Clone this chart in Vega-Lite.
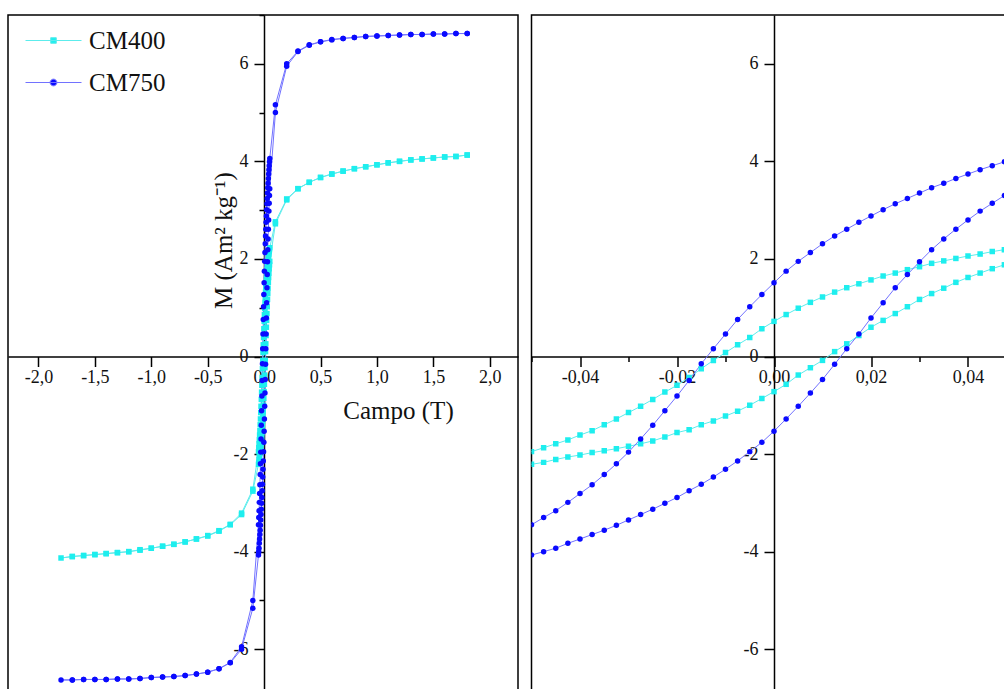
{
"$schema": "https://vega.github.io/schema/vega-lite/v6.json",
"background": "white",
"padding": {"left": 7, "top": 11, "right": 0, "bottom": 0},
"config": {
  "locale": {"number": {"decimal": ",", "thousands": ".", "grouping": [3], "currency": ["", ""], "minus": "-"}},
  "view": {"stroke": "black", "strokeWidth": 1.5},
  "axis": {"domainColor": "black", "domainWidth": 1.5, "tickColor": "black", "tickWidth": 1.5, "tickSize": 10, "labelFont": "Liberation Serif", "labelFontSize": 18, "labelColor": "#111", "titleFont": "Liberation Serif", "titleFontSize": 25, "titleFontWeight": "normal", "titleColor": "#111", "grid": false, "labelOverlap": false, "labelFlush": false, "labelBound": false},
  "legend": {"orient": "none", "legendX": 17, "legendY": -3, "title": null, "padding": 0, "labelFont": "Liberation Serif", "labelFontSize": 25, "labelColor": "#111", "labelOffset": 7, "symbolSize": 3136, "rowPadding": -9, "symbolOpacity": 1, "symbolStrokeWidth": 1}
},
"datasets": {"hyst": [
{"sample":"CM400","H":1.8,"M":4.13},{"sample":"CM400","H":1.7,"M":4.10},{"sample":"CM400","H":1.6,"M":4.09},{"sample":"CM400","H":1.5,"M":4.07},{"sample":"CM400","H":1.4,"M":4.05},{"sample":"CM400","H":1.3,"M":4.03},{"sample":"CM400","H":1.2,"M":4.00},{"sample":"CM400","H":1.1,"M":3.97},{"sample":"CM400","H":1.0,"M":3.93},{"sample":"CM400","H":0.9,"M":3.89},{"sample":"CM400","H":0.8,"M":3.85},{"sample":"CM400","H":0.7,"M":3.80},{"sample":"CM400","H":0.6,"M":3.74},{"sample":"CM400","H":0.5,"M":3.67},{"sample":"CM400","H":0.4,"M":3.57},{"sample":"CM400","H":0.3,"M":3.44},{"sample":"CM400","H":0.2,"M":3.23},{"sample":"CM400","H":0.1,"M":2.76},
{"sample":"CM400","H":0.05,"M":2.23},{"sample":"CM400","H":0.0475,"M":2.19},{"sample":"CM400","H":0.045,"M":2.15},{"sample":"CM400","H":0.0425,"M":2.10},{"sample":"CM400","H":0.04,"M":2.06},{"sample":"CM400","H":0.0375,"M":2.01},{"sample":"CM400","H":0.035,"M":1.96},{"sample":"CM400","H":0.0325,"M":1.91},{"sample":"CM400","H":0.03,"M":1.84},{"sample":"CM400","H":0.0275,"M":1.78},{"sample":"CM400","H":0.025,"M":1.71},{"sample":"CM400","H":0.0225,"M":1.65},{"sample":"CM400","H":0.02,"M":1.57},{"sample":"CM400","H":0.0175,"M":1.49},{"sample":"CM400","H":0.015,"M":1.41},{"sample":"CM400","H":0.0125,"M":1.32},{"sample":"CM400","H":0.01,"M":1.22},{"sample":"CM400","H":0.0075,"M":1.11},{"sample":"CM400","H":0.005,"M":0.99},{"sample":"CM400","H":0.0025,"M":0.86},{"sample":"CM400","H":0,"M":0.72},{"sample":"CM400","H":-0.0025,"M":0.57},{"sample":"CM400","H":-0.005,"M":0.39},{"sample":"CM400","H":-0.0075,"M":0.24},{"sample":"CM400","H":-0.01,"M":0.08},{"sample":"CM400","H":-0.0125,"M":-0.08},{"sample":"CM400","H":-0.015,"M":-0.25},{"sample":"CM400","H":-0.0175,"M":-0.43},{"sample":"CM400","H":-0.02,"M":-0.59},{"sample":"CM400","H":-0.0225,"M":-0.73},{"sample":"CM400","H":-0.025,"M":-0.88},{"sample":"CM400","H":-0.0275,"M":-1.02},{"sample":"CM400","H":-0.03,"M":-1.15},{"sample":"CM400","H":-0.0325,"M":-1.28},{"sample":"CM400","H":-0.035,"M":-1.40},{"sample":"CM400","H":-0.0375,"M":-1.52},{"sample":"CM400","H":-0.04,"M":-1.61},{"sample":"CM400","H":-0.0425,"M":-1.71},{"sample":"CM400","H":-0.045,"M":-1.79},{"sample":"CM400","H":-0.0475,"M":-1.87},{"sample":"CM400","H":-0.05,"M":-1.95},
{"sample":"CM400","H":-0.1,"M":-2.72},{"sample":"CM400","H":-0.2,"M":-3.21},{"sample":"CM400","H":-0.3,"M":-3.44},{"sample":"CM400","H":-0.4,"M":-3.57},{"sample":"CM400","H":-0.5,"M":-3.67},{"sample":"CM400","H":-0.6,"M":-3.74},{"sample":"CM400","H":-0.7,"M":-3.80},{"sample":"CM400","H":-0.8,"M":-3.85},{"sample":"CM400","H":-0.9,"M":-3.89},{"sample":"CM400","H":-1.0,"M":-3.93},{"sample":"CM400","H":-1.1,"M":-3.96},{"sample":"CM400","H":-1.2,"M":-4.00},{"sample":"CM400","H":-1.3,"M":-4.02},{"sample":"CM400","H":-1.4,"M":-4.04},{"sample":"CM400","H":-1.5,"M":-4.06},{"sample":"CM400","H":-1.6,"M":-4.08},{"sample":"CM400","H":-1.7,"M":-4.10},{"sample":"CM400","H":-1.8,"M":-4.13},
{"sample":"CM400","H":-1.7,"M":-4.10},{"sample":"CM400","H":-1.6,"M":-4.08},{"sample":"CM400","H":-1.5,"M":-4.06},{"sample":"CM400","H":-1.4,"M":-4.04},{"sample":"CM400","H":-1.3,"M":-4.02},{"sample":"CM400","H":-1.2,"M":-4.00},{"sample":"CM400","H":-1.1,"M":-3.97},{"sample":"CM400","H":-1.0,"M":-3.93},{"sample":"CM400","H":-0.9,"M":-3.89},{"sample":"CM400","H":-0.8,"M":-3.85},{"sample":"CM400","H":-0.7,"M":-3.80},{"sample":"CM400","H":-0.6,"M":-3.74},{"sample":"CM400","H":-0.5,"M":-3.68},{"sample":"CM400","H":-0.4,"M":-3.58},{"sample":"CM400","H":-0.3,"M":-3.45},{"sample":"CM400","H":-0.2,"M":-3.24},{"sample":"CM400","H":-0.1,"M":-2.76},
{"sample":"CM400","H":-0.05,"M":-2.21},{"sample":"CM400","H":-0.0475,"M":-2.17},{"sample":"CM400","H":-0.045,"M":-2.11},{"sample":"CM400","H":-0.0425,"M":-2.06},{"sample":"CM400","H":-0.04,"M":-2.02},{"sample":"CM400","H":-0.0375,"M":-1.97},{"sample":"CM400","H":-0.035,"M":-1.93},{"sample":"CM400","H":-0.0325,"M":-1.89},{"sample":"CM400","H":-0.03,"M":-1.84},{"sample":"CM400","H":-0.0275,"M":-1.79},{"sample":"CM400","H":-0.025,"M":-1.73},{"sample":"CM400","H":-0.0225,"M":-1.65},{"sample":"CM400","H":-0.02,"M":-1.56},{"sample":"CM400","H":-0.0175,"M":-1.50},{"sample":"CM400","H":-0.015,"M":-1.40},{"sample":"CM400","H":-0.0125,"M":-1.32},{"sample":"CM400","H":-0.01,"M":-1.22},{"sample":"CM400","H":-0.0075,"M":-1.12},{"sample":"CM400","H":-0.005,"M":-1.00},{"sample":"CM400","H":-0.0025,"M":-0.86},{"sample":"CM400","H":0,"M":-0.72},{"sample":"CM400","H":0.0025,"M":-0.57},{"sample":"CM400","H":0.005,"M":-0.38},{"sample":"CM400","H":0.0075,"M":-0.23},{"sample":"CM400","H":0.01,"M":-0.08},{"sample":"CM400","H":0.0125,"M":0.10},{"sample":"CM400","H":0.015,"M":0.26},{"sample":"CM400","H":0.0175,"M":0.43},{"sample":"CM400","H":0.02,"M":0.60},{"sample":"CM400","H":0.0225,"M":0.74},{"sample":"CM400","H":0.025,"M":0.88},{"sample":"CM400","H":0.0275,"M":1.02},{"sample":"CM400","H":0.03,"M":1.17},{"sample":"CM400","H":0.0325,"M":1.29},{"sample":"CM400","H":0.035,"M":1.40},{"sample":"CM400","H":0.0375,"M":1.52},{"sample":"CM400","H":0.04,"M":1.62},{"sample":"CM400","H":0.0425,"M":1.71},{"sample":"CM400","H":0.045,"M":1.80},{"sample":"CM400","H":0.0475,"M":1.88},{"sample":"CM400","H":0.05,"M":1.95},
{"sample":"CM400","H":0.1,"M":2.72},{"sample":"CM400","H":0.2,"M":3.21},{"sample":"CM400","H":0.3,"M":3.44},{"sample":"CM400","H":0.4,"M":3.57},{"sample":"CM400","H":0.5,"M":3.67},{"sample":"CM400","H":0.6,"M":3.74},{"sample":"CM400","H":0.7,"M":3.80},{"sample":"CM400","H":0.8,"M":3.85},{"sample":"CM400","H":0.9,"M":3.89},{"sample":"CM400","H":1.0,"M":3.93},{"sample":"CM400","H":1.1,"M":3.97},{"sample":"CM400","H":1.2,"M":4.00},{"sample":"CM400","H":1.3,"M":4.03},{"sample":"CM400","H":1.4,"M":4.05},{"sample":"CM400","H":1.5,"M":4.07},{"sample":"CM400","H":1.6,"M":4.09},{"sample":"CM400","H":1.7,"M":4.10},{"sample":"CM400","H":1.8,"M":4.13},
{"sample":"CM750","H":1.8,"M":6.62},{"sample":"CM750","H":1.7,"M":6.62},{"sample":"CM750","H":1.6,"M":6.61},{"sample":"CM750","H":1.5,"M":6.61},{"sample":"CM750","H":1.4,"M":6.60},{"sample":"CM750","H":1.3,"M":6.60},{"sample":"CM750","H":1.2,"M":6.59},{"sample":"CM750","H":1.1,"M":6.58},{"sample":"CM750","H":1.0,"M":6.57},{"sample":"CM750","H":0.9,"M":6.56},{"sample":"CM750","H":0.8,"M":6.54},{"sample":"CM750","H":0.7,"M":6.52},{"sample":"CM750","H":0.6,"M":6.50},{"sample":"CM750","H":0.5,"M":6.45},{"sample":"CM750","H":0.4,"M":6.39},{"sample":"CM750","H":0.3,"M":6.26},{"sample":"CM750","H":0.2,"M":6.00},{"sample":"CM750","H":0.1,"M":5.16},
{"sample":"CM750","H":0.05,"M":4.06},{"sample":"CM750","H":0.0475,"M":3.99},{"sample":"CM750","H":0.045,"M":3.91},{"sample":"CM750","H":0.0425,"M":3.83},{"sample":"CM750","H":0.04,"M":3.74},{"sample":"CM750","H":0.0375,"M":3.65},{"sample":"CM750","H":0.035,"M":3.55},{"sample":"CM750","H":0.0325,"M":3.46},{"sample":"CM750","H":0.03,"M":3.35},{"sample":"CM750","H":0.0275,"M":3.24},{"sample":"CM750","H":0.025,"M":3.13},{"sample":"CM750","H":0.0225,"M":3.01},{"sample":"CM750","H":0.02,"M":2.88},{"sample":"CM750","H":0.0175,"M":2.75},{"sample":"CM750","H":0.015,"M":2.61},{"sample":"CM750","H":0.0125,"M":2.47},{"sample":"CM750","H":0.01,"M":2.31},{"sample":"CM750","H":0.0075,"M":2.13},{"sample":"CM750","H":0.005,"M":1.95},{"sample":"CM750","H":0.0025,"M":1.75},{"sample":"CM750","H":0,"M":1.51},{"sample":"CM750","H":-0.0025,"M":1.27},{"sample":"CM750","H":-0.005,"M":1.02},{"sample":"CM750","H":-0.0075,"M":0.76},{"sample":"CM750","H":-0.01,"M":0.46},{"sample":"CM750","H":-0.0125,"M":0.16},{"sample":"CM750","H":-0.015,"M":-0.15},{"sample":"CM750","H":-0.0175,"M":-0.49},{"sample":"CM750","H":-0.02,"M":-0.81},{"sample":"CM750","H":-0.0225,"M":-1.11},{"sample":"CM750","H":-0.025,"M":-1.41},{"sample":"CM750","H":-0.0275,"M":-1.69},{"sample":"CM750","H":-0.03,"M":-1.96},{"sample":"CM750","H":-0.0325,"M":-2.20},{"sample":"CM750","H":-0.035,"M":-2.42},{"sample":"CM750","H":-0.0375,"M":-2.63},{"sample":"CM750","H":-0.04,"M":-2.81},{"sample":"CM750","H":-0.0425,"M":-2.99},{"sample":"CM750","H":-0.045,"M":-3.16},{"sample":"CM750","H":-0.0475,"M":-3.30},{"sample":"CM750","H":-0.05,"M":-3.45},
{"sample":"CM750","H":-0.1,"M":-5.00},{"sample":"CM750","H":-0.2,"M":-5.95},{"sample":"CM750","H":-0.3,"M":-6.27},{"sample":"CM750","H":-0.4,"M":-6.40},{"sample":"CM750","H":-0.5,"M":-6.47},{"sample":"CM750","H":-0.6,"M":-6.51},{"sample":"CM750","H":-0.7,"M":-6.54},{"sample":"CM750","H":-0.8,"M":-6.56},{"sample":"CM750","H":-0.9,"M":-6.57},{"sample":"CM750","H":-1.0,"M":-6.58},{"sample":"CM750","H":-1.1,"M":-6.60},{"sample":"CM750","H":-1.2,"M":-6.61},{"sample":"CM750","H":-1.3,"M":-6.61},{"sample":"CM750","H":-1.4,"M":-6.62},{"sample":"CM750","H":-1.5,"M":-6.62},{"sample":"CM750","H":-1.6,"M":-6.62},{"sample":"CM750","H":-1.7,"M":-6.63},{"sample":"CM750","H":-1.8,"M":-6.63},
{"sample":"CM750","H":-1.7,"M":-6.63},{"sample":"CM750","H":-1.6,"M":-6.62},{"sample":"CM750","H":-1.5,"M":-6.62},{"sample":"CM750","H":-1.4,"M":-6.62},{"sample":"CM750","H":-1.3,"M":-6.61},{"sample":"CM750","H":-1.2,"M":-6.61},{"sample":"CM750","H":-1.1,"M":-6.60},{"sample":"CM750","H":-1.0,"M":-6.58},{"sample":"CM750","H":-0.9,"M":-6.57},{"sample":"CM750","H":-0.8,"M":-6.56},{"sample":"CM750","H":-0.7,"M":-6.54},{"sample":"CM750","H":-0.6,"M":-6.51},{"sample":"CM750","H":-0.5,"M":-6.47},{"sample":"CM750","H":-0.4,"M":-6.40},{"sample":"CM750","H":-0.3,"M":-6.28},{"sample":"CM750","H":-0.2,"M":-6.00},{"sample":"CM750","H":-0.1,"M":-5.16},
{"sample":"CM750","H":-0.05,"M":-4.07},{"sample":"CM750","H":-0.0475,"M":-4.00},{"sample":"CM750","H":-0.045,"M":-3.93},{"sample":"CM750","H":-0.0425,"M":-3.83},{"sample":"CM750","H":-0.04,"M":-3.74},{"sample":"CM750","H":-0.0375,"M":-3.65},{"sample":"CM750","H":-0.035,"M":-3.56},{"sample":"CM750","H":-0.0325,"M":-3.46},{"sample":"CM750","H":-0.03,"M":-3.35},{"sample":"CM750","H":-0.0275,"M":-3.24},{"sample":"CM750","H":-0.025,"M":-3.13},{"sample":"CM750","H":-0.0225,"M":-3.01},{"sample":"CM750","H":-0.02,"M":-2.89},{"sample":"CM750","H":-0.0175,"M":-2.75},{"sample":"CM750","H":-0.015,"M":-2.62},{"sample":"CM750","H":-0.0125,"M":-2.47},{"sample":"CM750","H":-0.01,"M":-2.31},{"sample":"CM750","H":-0.0075,"M":-2.14},{"sample":"CM750","H":-0.005,"M":-1.95},{"sample":"CM750","H":-0.0025,"M":-1.76},{"sample":"CM750","H":0,"M":-1.53},{"sample":"CM750","H":0.0025,"M":-1.28},{"sample":"CM750","H":0.005,"M":-1.02},{"sample":"CM750","H":0.0075,"M":-0.75},{"sample":"CM750","H":0.01,"M":-0.47},{"sample":"CM750","H":0.0125,"M":-0.16},{"sample":"CM750","H":0.015,"M":0.16},{"sample":"CM750","H":0.0175,"M":0.46},{"sample":"CM750","H":0.02,"M":0.79},{"sample":"CM750","H":0.0225,"M":1.10},{"sample":"CM750","H":0.025,"M":1.41},{"sample":"CM750","H":0.0275,"M":1.68},{"sample":"CM750","H":0.03,"M":1.94},{"sample":"CM750","H":0.0325,"M":2.19},{"sample":"CM750","H":0.035,"M":2.41},{"sample":"CM750","H":0.0375,"M":2.61},{"sample":"CM750","H":0.04,"M":2.80},{"sample":"CM750","H":0.0425,"M":2.98},{"sample":"CM750","H":0.045,"M":3.14},{"sample":"CM750","H":0.0475,"M":3.30},{"sample":"CM750","H":0.05,"M":3.44},
{"sample":"CM750","H":0.1,"M":5.00},{"sample":"CM750","H":0.2,"M":5.95},{"sample":"CM750","H":0.3,"M":6.25},{"sample":"CM750","H":0.4,"M":6.38},{"sample":"CM750","H":0.5,"M":6.45},{"sample":"CM750","H":0.6,"M":6.49},{"sample":"CM750","H":0.7,"M":6.52},{"sample":"CM750","H":0.8,"M":6.54},{"sample":"CM750","H":0.9,"M":6.56},{"sample":"CM750","H":1.0,"M":6.57},{"sample":"CM750","H":1.1,"M":6.58},{"sample":"CM750","H":1.2,"M":6.59},{"sample":"CM750","H":1.3,"M":6.60},{"sample":"CM750","H":1.4,"M":6.60},{"sample":"CM750","H":1.5,"M":6.61},{"sample":"CM750","H":1.6,"M":6.61},{"sample":"CM750","H":1.7,"M":6.62},{"sample":"CM750","H":1.8,"M":6.62}
]},
"spacing": 10.5,
"resolve": {"scale": {"x": "independent", "fill": "independent"}},
"hconcat": [
{
  "width": 510, "height": 683,
  "data": {"name": "hyst"},
  "resolve": {"axis": {"y": "independent"}},
  "layer": [
    {"mark": {"type": "line", "strokeWidth": 1},
     "encoding": {
       "x": {"field": "H", "type": "quantitative", "scale": {"domain": [-2.27, 2.25], "nice": false, "zero": false},
             "axis": {"orient": "bottom", "offset": -341.5, "values": [-2, -1.5, -1, -0.5, 0, 0.5, 1, 1.5, 2], "format": ".1f", "labelPadding": 2, "title": "Campo (T)", "titleX": 390, "titleY": 61.5, "titleBaseline": "alphabetic", "titleAlign": "center"}},
       "y": {"field": "M", "type": "quantitative", "scale": {"domain": [-7, 7], "nice": false, "zero": false},
             "axis": {"orient": "left", "offset": -256, "values": [-6, -4, -2, 0, 2, 4, 6], "format": "d", "labelPadding": 6, "title": "M (Am² kg⁻¹)", "titleX": -33, "titleY": 225, "titleAngle": 270, "titleBaseline": "alphabetic", "titleAlign": "center"}},
       "detail": {"field": "sample", "type": "nominal"},
       "stroke": {"condition": {"test": "datum.sample === 'CM400'", "value": "#5cecec"}, "value": "#7272ff"},
       "order": {"value": null}
     }},
    {"mark": {"type": "point", "filled": true, "opacity": 1, "size": 30, "strokeWidth": 0},
     "encoding": {
       "x": {"field": "H", "type": "quantitative"},
       "y": {"field": "M", "type": "quantitative",
             "axis": {"orient": "left", "offset": -256, "values": [-7, -5, -3, -1, 1, 3, 5, 7], "labels": false, "domain": false, "tickSize": 5, "title": null}},
       "shape": {"condition": {"test": "datum.sample === 'CM400'", "value": "square"}, "value": "circle"},
       "fill": {"field": "sample", "type": "nominal", "scale": {"domain": ["CM400", "CM750"], "range": ["#1eeeee", "#0a0aff"]},
                "legend": {"labelFont": "Liberation Serif", "labelFontSize": 25, "labelColor": "#111", "labelOffset": 7, "rowPadding": -9, "legendX": 17, "legendY": -3, "orient": "none",
                  "encode": {"labels": {"update": {"font": {"value": "Liberation Serif"}, "fontSize": {"value": 25}}},
                             "symbols": {"update": {"shape": {"signal": "datum.value === 'CM400' ? 'M-1,0H1M-0.1,-0.1H0.1V0.1H-0.1Z' : 'M-1,0H1M0.12,0A0.12,0.12,0,1,1,-0.12,0A0.12,0.12,0,1,1,0.12,0Z'"}, "stroke": {"signal": "datum.value === 'CM400' ? '#5cecec' : '#7272ff'"}, "strokeWidth": {"value": 1}}}}}}
     }}
  ]
},
{
  "width": 485, "height": 683,
  "data": {"name": "hyst"},
  "resolve": {"axis": {"x": "independent"}},
  "layer": [
    {"mark": {"type": "line", "strokeWidth": 1, "clip": true},
     "encoding": {
       "x": {"field": "H", "type": "quantitative", "scale": {"domain": [-0.05, 0.05], "nice": false, "zero": false},
             "axis": {"orient": "bottom", "offset": -341.5, "values": [-0.04, -0.02, 0, 0.02, 0.04], "format": ".2f", "labelPadding": 2, "title": null}},
       "y": {"field": "M", "type": "quantitative", "scale": {"domain": [-7, 7], "nice": false, "zero": false},
             "axis": {"orient": "left", "offset": -242.5, "values": [-6, -4, -2, 0, 2, 4, 6], "format": "d", "labelPadding": 6, "title": null}},
       "detail": {"field": "sample", "type": "nominal"},
       "stroke": {"condition": {"test": "datum.sample === 'CM400'", "value": "#5cecec"}, "value": "#7272ff"},
       "order": {"value": null}
     }},
    {"mark": {"type": "point", "filled": true, "opacity": 1, "size": 30, "strokeWidth": 0, "clip": true},
     "encoding": {
       "x": {"field": "H", "type": "quantitative",
             "axis": {"orient": "bottom", "offset": -341.5, "values": [-0.05, -0.03, -0.01, 0.01, 0.03, 0.05], "labels": false, "domain": false, "tickSize": 5, "title": null}},
       "y": {"field": "M", "type": "quantitative"},
       "shape": {"condition": {"test": "datum.sample === 'CM400'", "value": "square"}, "value": "circle"},
       "fill": {"field": "sample", "type": "nominal", "scale": {"domain": ["CM400", "CM750"], "range": ["#1eeeee", "#0a0aff"]}, "legend": null}
     }}
  ]
}
]
}
